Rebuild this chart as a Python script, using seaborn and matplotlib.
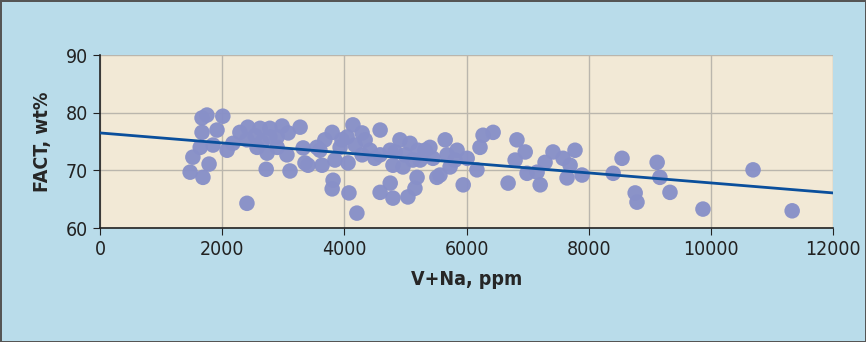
import numpy as np
import pandas as pd
import seaborn as sns
import matplotlib.pyplot as plt

# V+Na (ppm) and FACT (wt%)
v_na = [1670, 1750, 2010, 1670, 1915, 1850, 1640, 1520, 1785, 1475,
        1685, 2080, 2290, 2420, 2620, 2780, 2980, 3080, 3275, 2175,
        2405, 2570, 2735, 2900, 3060, 3325, 3355, 2720, 3110, 2405,
        2780, 2900, 2540, 2650,
        3405, 3635, 3550, 3800, 3815, 3800, 4075, 4205, 4140, 4290,
        4045, 3930, 3845, 4060, 4290, 4585, 4585, 4750, 4910, 5075,
        4795, 4960, 5190, 4750, 4585, 4795, 5040, 5155, 5400, 5450,
        5515, 5205, 3600, 3680, 3960, 4420, 4175, 4340, 4500, 4830,
        4990, 5240, 5320, 5120,
        5650, 5565, 5845, 5730, 5945, 6010, 6170, 6220, 6270, 6435,
        6680, 6825, 6960, 6795, 6990, 7205, 7155, 7285, 7415, 7580,
        7645, 5810, 5680,
        7775, 7695, 7890, 8545, 8400, 8760, 8790, 9120, 9165, 9330,
        9870, 10690, 11330]
fact = [79.1, 79.6, 79.4, 76.6, 77.0, 74.4, 74.0, 72.3, 71.1, 69.7,
        68.8, 73.5, 76.6, 77.5, 77.3, 77.3, 77.7, 76.5, 77.5, 74.7,
        75.3, 74.0, 73.0, 74.0, 72.7, 73.9, 71.3, 70.2, 69.9, 64.3,
        75.8, 75.8, 76.0, 74.9,
        70.9, 70.9, 74.0, 76.6, 68.3, 66.8, 66.1, 62.6, 77.9, 76.5,
        75.8, 74.0, 71.8, 71.3, 72.7, 77.0, 72.7, 73.5, 75.3, 74.7,
        70.9, 70.6, 68.8, 67.8, 66.2, 65.2, 65.4, 66.9, 74.0, 72.1,
        68.8, 73.5, 73.5, 75.3, 75.3, 73.5, 74.4, 75.3, 72.1, 73.2,
        72.7, 71.8, 73.5, 71.8,
        75.3, 69.2, 73.5, 70.6, 67.5, 72.1, 70.1, 74.0, 76.1, 76.6,
        67.8, 75.3, 73.2, 71.8, 69.5, 67.5, 69.7, 71.4, 73.2, 72.1,
        68.7, 71.8, 72.7,
        73.5, 70.9, 69.2, 72.1, 69.5, 66.1, 64.5, 71.4, 68.8, 66.2,
        63.3, 70.1, 63.0]

# linear trend line shown on the chart
trend_x = [0, 12000]
trend_y = [76.5, 66.1]

df = pd.DataFrame({"V+Na, ppm": v_na, "FACT, wt%": fact})
trend = pd.DataFrame({"x": trend_x, "y": trend_y})

sns.set_style("white")
plt.rcParams['font.family'] = ['DejaVu Sans']
plt.rcParams['font.stretch'] = 'condensed'

fig = plt.figure(figsize=(8.66, 3.42), dpi=100)
fig.patch.set_facecolor('#b9dcea')
fig.patch.set_edgecolor('#555555')
fig.patch.set_linewidth(2)
ax = fig.add_axes([0.1155, 0.333, 0.8465, 0.506])
ax.set_facecolor('#f2e9d6')

sns.scatterplot(data=df, x="V+Na, ppm", y="FACT, wt%", ax=ax,
                color='#8890c8', s=125, edgecolor='none', alpha=0.97, zorder=3)
sns.lineplot(data=trend, x="x", y="y", ax=ax, color='#0a4f9c',
             linewidth=2, zorder=4)

ax.set_xlim(0, 12000)
ax.set_ylim(60, 90)
ax.set_xticks(range(0, 12001, 2000))
ax.set_yticks([60, 70, 80, 90])
ax.grid(True, color='#bab6ad', linewidth=1.0, zorder=0)
ax.set_axisbelow(True)

for side in ['top', 'right']:
    ax.spines[side].set_visible(False)
for side in ['left', 'bottom']:
    ax.spines[side].set_color('#222222')
    ax.spines[side].set_linewidth(1.2)

ax.tick_params(axis='both', labelsize=14, colors='#222222', length=5,
               direction='out', left=True, bottom=True)
ax.set_xlabel("V+Na, ppm", fontsize=14, fontweight='bold', labelpad=8)
ax.set_ylabel("FACT, wt%", fontsize=14, fontweight='bold', labelpad=10)

fig.savefig("out.png", dpi=100, facecolor=fig.get_facecolor(),
            edgecolor=fig.get_edgecolor())
